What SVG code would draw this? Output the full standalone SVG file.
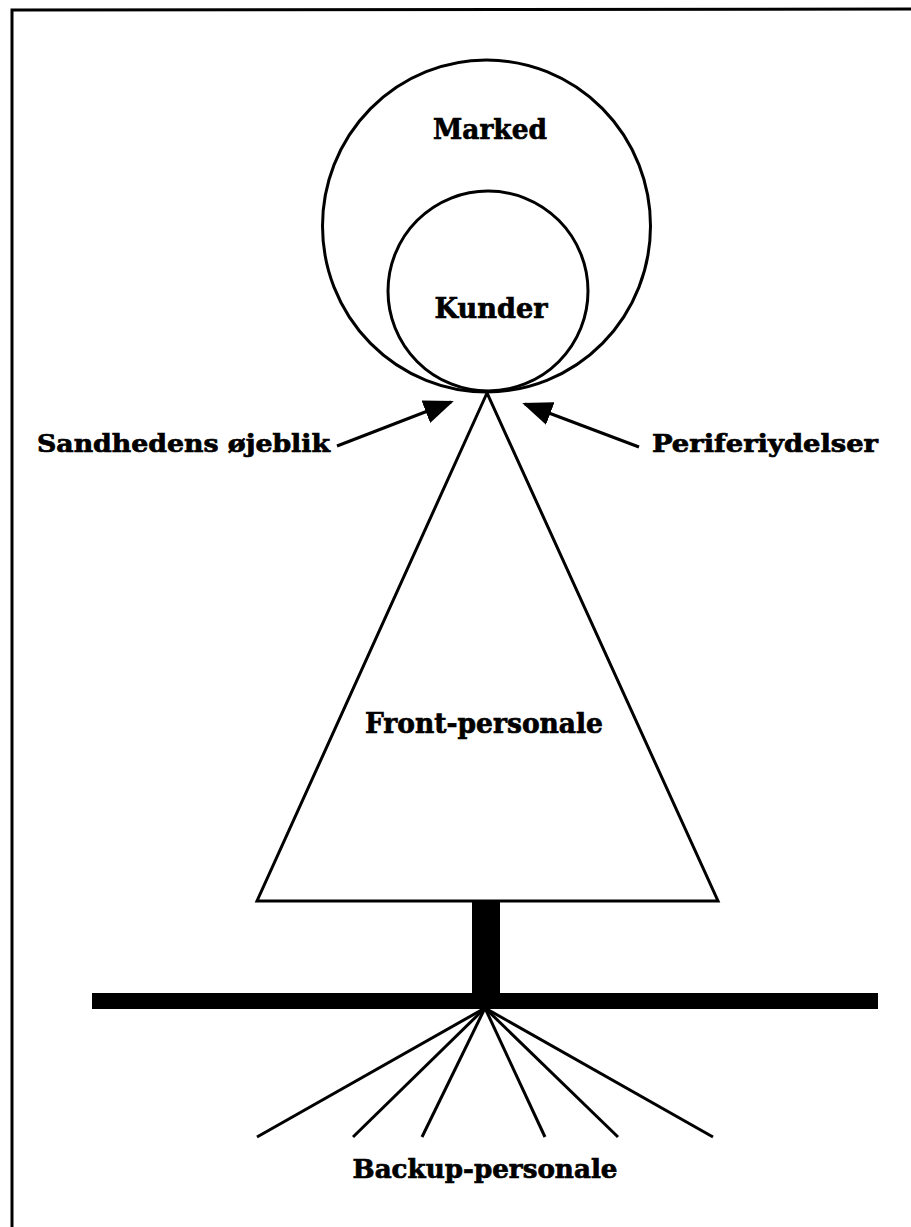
<svg xmlns="http://www.w3.org/2000/svg" width="911" height="1227" viewBox="0 0 911 1227">
<style>
.t{font-family:"DejaVu Serif","Liberation Serif",serif;font-weight:bold;fill:#000;stroke:#000;stroke-width:0.7}
.ln{stroke:#000;fill:none;stroke-width:3}
</style>
<defs>
<marker id="ah" markerWidth="10" markerHeight="8" refX="9" refY="4" orient="auto" markerUnits="strokeWidth">
<path d="M0,0 L10,4 L0,8 Z" fill="#000"/>
</marker>
</defs>
<rect width="911" height="1227" fill="#fff"/>
<polyline id="frame" class="ln" points="12,1227 12,10 911,9"/>
<g id="marked">
<ellipse cx="486.5" cy="226" rx="164" ry="166" class="ln"/>
<text class="t" x="490" y="139" font-size="28" text-anchor="middle" textLength="114" lengthAdjust="spacingAndGlyphs">Marked</text>
</g>
<g id="kunder">
<circle cx="488" cy="291" r="100" class="ln"/>
<text class="t" x="491" y="318" font-size="28" text-anchor="middle" textLength="113" lengthAdjust="spacingAndGlyphs">Kunder</text>
</g>
<g id="front">
<polygon points="487,393 257,901 718,901" class="ln"/>
<text class="t" x="484" y="733" font-size="28" text-anchor="middle" textLength="238" lengthAdjust="spacingAndGlyphs">Front-personale</text>
</g>
<g id="sandhed">
<text class="t" x="37" y="452" font-size="24" textLength="293" lengthAdjust="spacingAndGlyphs">Sandhedens øjeblik</text>
</g>
<g id="periferi">
<text class="t" x="652" y="452" font-size="24" textLength="226" lengthAdjust="spacingAndGlyphs">Periferiydelser</text>
</g>
<g id="stamme">
<rect x="472" y="901" width="28" height="100" fill="#000"/>
<rect x="92" y="993" width="786" height="16" fill="#000"/>
</g>
<g id="backup">
<text class="t" x="485" y="1178" font-size="26" text-anchor="middle" textLength="265" lengthAdjust="spacingAndGlyphs">Backup-personale</text>
</g>
<g id="connectors">
<line x1="337" y1="446" x2="451" y2="402" class="ln" marker-end="url(#ah)"/>
<line x1="639" y1="447" x2="525" y2="404" class="ln" marker-end="url(#ah)"/>
<line x1="485" y1="1008" x2="257" y2="1137" class="ln"/>
<line x1="485" y1="1008" x2="353" y2="1137" class="ln"/>
<line x1="485" y1="1008" x2="422" y2="1137" class="ln"/>
<line x1="485" y1="1008" x2="545" y2="1137" class="ln"/>
<line x1="485" y1="1008" x2="618" y2="1137" class="ln"/>
<line x1="485" y1="1008" x2="713" y2="1137" class="ln"/>
</g>
</svg>
